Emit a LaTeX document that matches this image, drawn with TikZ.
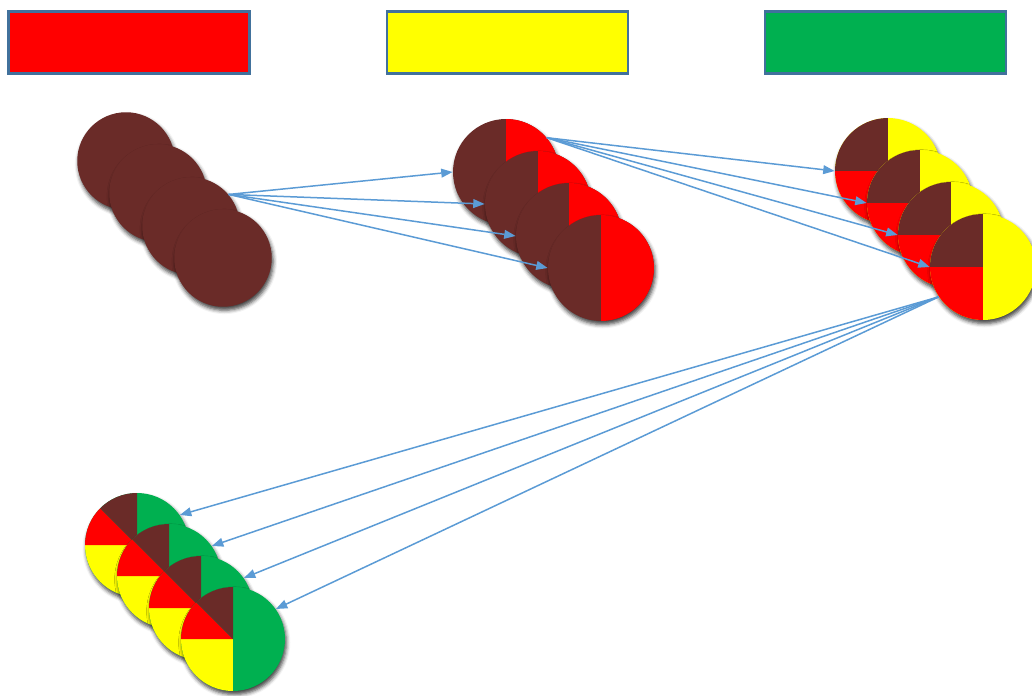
\documentclass[tikz,border=0pt]{standalone}
\usepackage{xcolor}
\usepackage{tikz}
\usetikzlibrary{arrows.meta, shadows.blur}

\definecolor{chestnut}{RGB}{106,43,40}
\definecolor{signalred}{RGB}{255,0,0}
\definecolor{signalyellow}{RGB}{255,255,0}
\definecolor{signalgreen}{RGB}{0,176,80}
\definecolor{barline}{RGB}{65,113,156}
\definecolor{linkblue}{RGB}{91,155,213}

\begin{document}
\begin{tikzpicture}[
    x=0.02cm, y=-0.02cm,
    bar/.style={rectangle, draw=barline, line width=0.05cm, minimum width=4.83cm, minimum height=1.25cm},
    disc/.style={circle, inner sep=0pt, fill=chestnut, blur shadow={shadow xshift=0.8pt, shadow yshift=-2pt, shadow blur radius=2.2pt, shadow opacity=75}},
    plain/.style={disc, minimum size=1.95cm},
    halved/.style={disc, minimum size=2.12cm, path picture={
        \fill[signalred] (path picture bounding box.north) rectangle (path picture bounding box.south east);}},
    quartered/.style={disc, minimum size=2.12cm, fill=signalyellow, path picture={
        \fill[chestnut] (path picture bounding box.center) rectangle (path picture bounding box.north west);
        \fill[signalred] (path picture bounding box.center) rectangle (path picture bounding box.south west);}},
    sliced/.style={disc, minimum size=2.08cm, fill=signalgreen, path picture={
        \fill[signalyellow] (path picture bounding box.center) rectangle (path picture bounding box.south west);
        \fill[signalred] (path picture bounding box.center) -- (path picture bounding box.west) -- (path picture bounding box.north west) -- cycle;
        \fill[chestnut] (path picture bounding box.center) -- (path picture bounding box.north west) -- (path picture bounding box.north) -- cycle;}},
    arrow/.style={-{Triangle[length=6.5pt, width=5pt]}, draw=linkblue, line width=0.03cm}
]
\useasboundingbox (0,0) rectangle (1032,696);

% Colour bars
\node[bar, fill=signalred] (redbar) at (129,42.5) {};
\node[bar, fill=signalyellow] (yellowbar) at (507.5,42.5) {};
\node[bar, fill=signalgreen] (greenbar) at (885.5,42.5) {};

% Stage 1
\node[plain] (a1) at (126,161) {};
\node[plain] (a2) at (158,193) {};
\node[plain] (a3) at (191,226) {};
\node[plain] (a4) at (223,258) {};

% Stage 2
\node[halved] (b1) at (506,172) {};
\node[halved] (b2) at (538,204) {};
\node[halved] (b3) at (569,236) {};
\node[halved] (b4) at (601,268) {};

% Stage 3
\node[quartered] (c1) at (888,171) {};
\node[quartered] (c2) at (920,203) {};
\node[quartered] (c3) at (951,235) {};
\node[quartered] (c4) at (983,267) {};

% Stage 4
\node[sliced] (d1) at (137,545) {};
\node[sliced] (d2) at (169,576) {};
\node[sliced] (d3) at (201,608) {};
\node[sliced] (d4) at (233,639) {};

% Arrows
\draw[arrow] (a3.40) -- (b1.west);
\draw[arrow] (a3.40) -- (b2.west);
\draw[arrow] (a3.40) -- (b3.west);
\draw[arrow] (a3.40) -- (b4.west);
\draw[arrow] (b1.40) -- (c1.west);
\draw[arrow] (b1.40) -- (c2.west);
\draw[arrow] (b1.40) -- (c3.west);
\draw[arrow] (b1.40) -- (c4.west);
\draw[arrow] (c4.214) -- (d1.35);
\draw[arrow] (c4.214) -- (d2.35);
\draw[arrow] (c4.214) -- (d3.35);
\draw[arrow] (c4.214) -- (d4.35);

\end{tikzpicture}
\end{document}
